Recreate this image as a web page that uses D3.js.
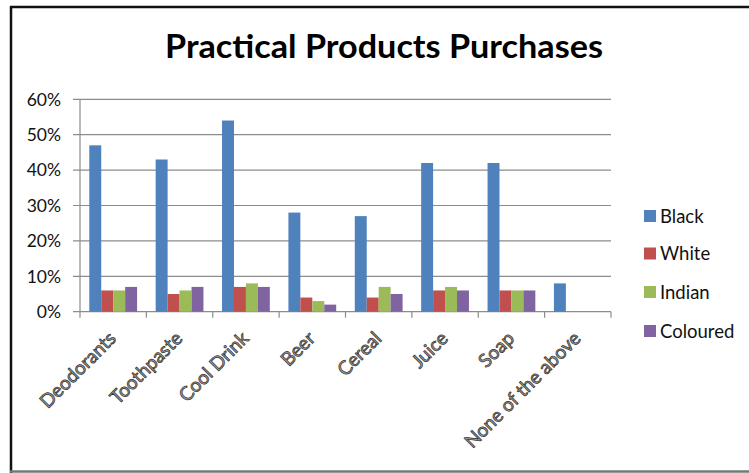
<!DOCTYPE html>
<html><head><meta charset="utf-8">
<script src="https://cdn.jsdelivr.net/npm/d3@7"></script>
<style>
html,body{margin:0;padding:0;background:#fff;}
svg{display:block;font-family:Lato,"Open Sans",sans-serif;}
</style></head>
<body>
<svg id="chart" width="749" height="473"></svg>
<script>
const categories = ["Deodorants","Toothpaste","Cool Drink","Beer","Cereal","Juice","Soap","None of the above"];
const seriesNames = ["Black","White","Indian","Coloured"];
const black    = [47,43,54,28,27,42,42,8];
const white    = [6,5,7,4,4,6,6,0];
const indian   = [6,6,8,3,7,7,6,0];
const coloured = [7,7,7,2,5,6,6,0];
const yTicks = [0,10,20,30,40,50,60];
const colors = ["#4F81BD","#C0504D","#9BBB59","#8064A2"];
const titleText = "Practical Products Purchases";

const seriesValues = [black, white, indian, coloured];
const svg = d3.select("#chart");

// frame
svg.append("line").attr("x1",10).attr("x2",749).attr("y1",7).attr("y2",7).attr("stroke","#111").attr("stroke-width",2.5);
svg.append("line").attr("x1",11).attr("x2",11).attr("y1",6).attr("y2",473).attr("stroke","#111").attr("stroke-width",2.5);
svg.append("line").attr("x1",10).attr("x2",749).attr("y1",471.5).attr("y2",471.5).attr("stroke","#777").attr("stroke-width",2.5);

const plot = {left:80, right:611, top:99.3, bottom:311.7};
const x = d3.scaleBand().domain(categories).range([plot.left, plot.right]).paddingInner(0.28).paddingOuter(0.14);
const x1 = d3.scaleBand().domain(seriesNames).range([0, x.bandwidth()]);
const y = d3.scaleLinear().domain([0,60]).range([plot.bottom, plot.top]);

// title
svg.append("text").attr("x",384).attr("y",58).attr("text-anchor","middle")
  .attr("font-size",33).attr("font-weight","bold").attr("fill","#000")
  .attr("textLength",438).attr("lengthAdjust","spacingAndGlyphs").text(titleText);

// gridlines
svg.append("g").selectAll("line").data(yTicks).join("line")
  .attr("x1",plot.left-7).attr("x2",plot.right).attr("y1",d=>y(d)).attr("y2",d=>y(d))
  .attr("stroke","#8c8c8c").attr("stroke-width",1.2);

// y labels
svg.append("g").selectAll("text").data(yTicks).join("text")
  .attr("x",61).attr("y",d=>y(d)).attr("dy","0.36em").attr("text-anchor","end")
  .attr("font-size",17.5).attr("fill","#111").text(d=>d+"%");

// y axis line
svg.append("line").attr("x1",plot.left).attr("x2",plot.left).attr("y1",plot.top).attr("y2",plot.bottom).attr("stroke","#8c8c8c").attr("stroke-width",1.2);

// category ticks
const tickPos = d3.range(categories.length+1).map(i => plot.left + (plot.right-plot.left)*i/categories.length);
svg.append("g").selectAll("line").data(tickPos).join("line")
  .attr("x1",d=>d).attr("x2",d=>d).attr("y1",plot.bottom).attr("y2",plot.bottom+6)
  .attr("stroke","#8c8c8c").attr("stroke-width",1.2);

// bars
const groups = svg.append("g").selectAll("g").data(categories).join("g")
  .attr("transform",d=>`translate(${x(d)},0)`);
groups.selectAll("rect").data((c,i)=>seriesNames.map((s,j)=>({s, v:seriesValues[j][i], j})))
  .join("rect")
  .attr("x",d=>x1(d.s)).attr("width",x1.bandwidth())
  .attr("y",d=>y(d.v)).attr("height",d=>plot.bottom-y(d.v))
  .attr("fill",d=>colors[d.j]);

// category labels
const cw = (plot.right-plot.left)/categories.length;
svg.append("g").selectAll("text").data(categories).join("text")
  .attr("transform",(d,i)=>`translate(${plot.left+cw*(i+0.5)+4},${plot.bottom+28}) rotate(-45)`)
  .attr("text-anchor","end").attr("font-size",19)
  .attr("fill","#a0a0a0").attr("stroke","#333").attr("stroke-width",0.75)
  .text(d=>d);

// legend
const legY = [216,253.5,292,331];
const leg = svg.append("g").selectAll("g").data(seriesNames).join("g")
  .attr("transform",(d,i)=>`translate(644,${legY[i]})`);
leg.append("rect").attr("x",0).attr("y",-6).attr("width",12).attr("height",12).attr("fill",(d,i)=>colors[i]);
leg.append("text").attr("x",16).attr("y",0).attr("dy","0.36em").attr("font-size",18.5).attr("fill","#111").text(d=>d);
</script>
</body></html>
